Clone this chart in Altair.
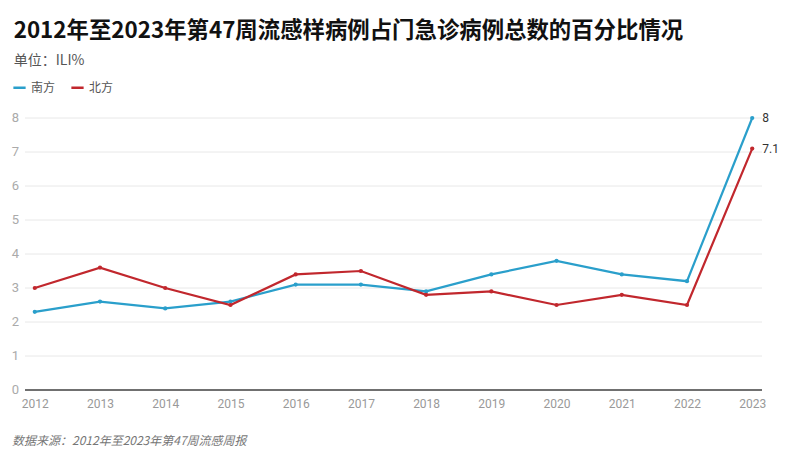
import altair as alt
import pandas as pd

years = ["2012", "2013", "2014", "2015", "2016", "2017",
         "2018", "2019", "2020", "2021", "2022", "2023"]
south = [2.3, 2.6, 2.4, 2.6, 3.1, 3.1, 2.9, 3.4, 3.8, 3.4, 3.2, 8.0]
north = [3.0, 3.6, 3.0, 2.5, 3.4, 3.5, 2.8, 2.9, 2.5, 2.8, 2.5, 7.1]
series = ["南方", "北方"]
colors = ["#2a9fcb", "#c1272d"]
y_ticks = [0, 1, 2, 3, 4, 5, 6, 7, 8]

rows = []
for i, y in enumerate(years):
    rows.append({"year": y, "region": "南方", "value": south[i]})
    rows.append({"year": y, "region": "北方", "value": north[i]})
df = pd.DataFrame(rows)
last = df[df["year"] == years[-1]]
ticks_df = pd.DataFrame({"value": y_ticks})

font = "Noto Sans CJK SC"
W, H = 737, 272

x = alt.X("year:O", title=None,
          scale=alt.Scale(type="point", padding=0.15),
          axis=alt.Axis(labelAngle=0, labelColor="#999999", labelFontSize=12,
                        labelFont="Roboto", ticks=False, domain=False,
                        labelPadding=8, grid=False))
y = alt.Y("value:Q", title=None,
          scale=alt.Scale(domain=[0, 8], nice=False), axis=None)
color = alt.Color("region:N", title=None,
                  scale=alt.Scale(domain=series, range=colors),
                  legend=alt.Legend(orient="none", legendX=-13, legendY=-38,
                                    direction="horizontal", symbolType="stroke",
                                    symbolStrokeWidth=2.5, symbolSize=150,
                                    labelFont=font, labelFontSize=12,
                                    labelColor="#555555", columnPadding=10,
                                    symbolOffset=0, labelOffset=4))

# horizontal grid and y labels
grid = alt.Chart(ticks_df).mark_rule(color="#e8e8e8", strokeWidth=1).encode(
    y=y, x=alt.value(0), x2=alt.value(W))
ylabels = alt.Chart(ticks_df).mark_text(
    align="right", baseline="middle", dx=-6, fontSize=13, font="Roboto",
    color="#aaaaaa"
).encode(y=y, x=alt.value(0), text=alt.Text("value:Q"))

base = alt.Chart(df).encode(x=x, y=y, color=color)
lines = base.mark_line(strokeWidth=2.2)
points = base.mark_circle(size=18, opacity=1)

# baseline along zero
zero = alt.Chart(pd.DataFrame({"v": [0]})).mark_rule(
    color="#444444", strokeWidth=1.5
).encode(y=alt.value(H), x=alt.value(0), x2=alt.value(W))

labels = alt.Chart(last).mark_text(
    align="left", dx=10, fontSize=12, font="Roboto", color="#333333"
).encode(x=x, y=y, text=alt.Text("value:Q", format=".2~f"))

source = alt.Chart(pd.DataFrame({"t": ["数据来源：2012年至2023年第47周流感周报"]})).mark_text(
    align="left", baseline="middle", fontSize=12, font=font,
    fontStyle="italic", color="#777777"
).encode(text="t:N", x=alt.value(-13), y=alt.value(H + 51))

chart = alt.layer(grid, ylabels, lines, points, labels, zero, source).properties(
    width=W, height=H,
    title=alt.Title("2012年至2023年第47周流感样病例占门急诊病例总数的百分比情况",
                    subtitle="单位：ILI%", anchor="start", dx=2, offset=12,
                    font=font, fontSize=22.4, fontWeight="bold", color="#111111",
                    subtitleFont=font, subtitleFontSize=14,
                    subtitleColor="#555555", subtitlePadding=12),
    autosize=alt.AutoSizeParams(type="none"),
    padding={"left": 17, "top": 110, "right": 30, "bottom": 57},
).configure_view(stroke=None)

chart.save("out.html", embed_options={"renderer": "svg", "actions": False})
